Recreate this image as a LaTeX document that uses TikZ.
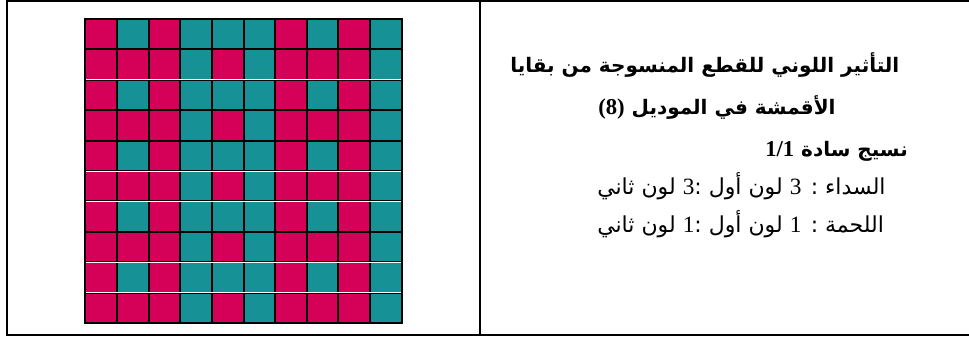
\documentclass[tikz,border=0pt]{standalone}
\usepackage{fontspec}
\newfontfamily\arabicfont[Script=Arabic]{DejaVu Sans}
\newfontfamily\numfont{Liberation Serif}
\TeXXeTstate=1
\definecolor{WeftPink}{RGB}{213,0,87}
\definecolor{WarpTeal}{RGB}{22,145,150}
\tikzset{
  frameline/.style={draw=black,line width=1.5pt},
  cell/.style={draw=black,line width=1.5pt},
  gapline/.style={draw=white,line width=0.7pt},
  titleline/.style={anchor=base west,inner sep=0pt,
    font=\arabicfont\bfseries\fontsize{15}{18}\selectfont},
  infoline/.style={anchor=base west,inner sep=0pt,
    font=\arabicfont\fontsize{16.5}{20}\selectfont}
}
\newcommand\titlenum[1]{{\numfont\fontsize{17}{20}\selectfont #1}}
\newcommand\infonum[1]{{\numfont\fontsize{17.5}{20}\selectfont #1}}

\begin{document}
\begin{tikzpicture}[x=0.75pt,y=-0.75pt]
      \useasboundingbox (0,0) rectangle (969,338);
      \foreach \r in {0,2,4,6,8}
        \foreach \c/\col in {0/WeftPink,1/WarpTeal,2/WeftPink,3/WarpTeal,4/WarpTeal,
            5/WarpTeal,6/WeftPink,7/WarpTeal,8/WeftPink,9/WarpTeal}
          \path[cell,fill=\col] ({85.3+31.64*\c},{19+30.4*\r}) rectangle +(31.64,30.4);
      \foreach \r in {1,3,5,7,9}
        \foreach \c/\col in {0/WeftPink,1/WeftPink,2/WeftPink,3/WarpTeal,4/WeftPink,
            5/WarpTeal,6/WeftPink,7/WeftPink,8/WeftPink,9/WarpTeal}
          \path[cell,fill=\col] ({85.3+31.64*\c},{19+30.4*\r}) rectangle +(31.64,30.4);
      \foreach \r in {2,5,6,8,9}
        \draw[gapline] (86.3,{19+30.4*\r}) -- (400.7,{19+30.4*\r});
      \draw[frameline] (969,1) -- (7,1) -- (7,335) -- (969,335);
      \draw[frameline] (480,1) -- (480,335);
      \node[titleline] (title1) at (510,73) {\beginR التأثير اللوني للقطع المنسوجة من بقايا\endR};
      \node[titleline] (title2) at (598,115) {\beginR الأقمشة في الموديل \beginL\titlenum{(8)}\endL\endR};
      \node[titleline] (weave) at (765,157) {\beginR نسيج سادة \beginL\titlenum{1/1}\endL\endR};
      \node[infoline] (warp) at (597,195) {\beginR السداء : \infonum{3} لون أول :\infonum{3} لون ثاني\endR};
      \node[infoline] (weft) at (597,232) {\beginR اللحمة : \infonum{1} لون أول :\infonum{1} لون ثاني\endR};
    \end{tikzpicture}
\end{document}
